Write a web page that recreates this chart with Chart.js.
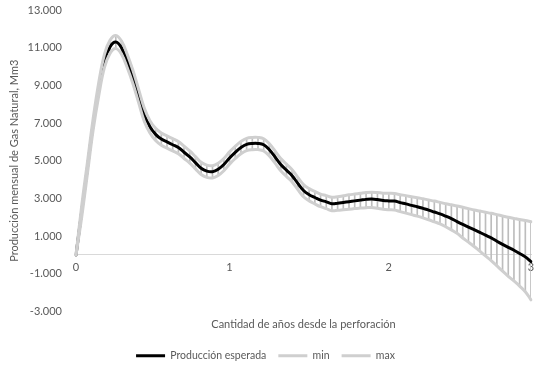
<!DOCTYPE html>
<html>
<head>
<meta charset="utf-8">
<script src="https://cdn.jsdelivr.net/npm/chart.js@4.4.1/dist/chart.umd.min.js"></script>
<style>
  html, body { margin: 0; padding: 0; background: #fff; }
  #wrap { width: 546px; height: 367px; }
</style>
</head>
<body>
<div id="wrap"><canvas id="prodChart"></canvas></div>
<script>
// valores (Mm3 / mes), un punto cada ~2 semanas
const esperada = [0, 2300, 4600, 6900, 8800, 10300, 11050, 11300, 11000, 10300,
  9450, 8450, 7450, 6800, 6400, 6150, 6000, 5850, 5700, 5450,
  5200, 4900, 4600, 4450, 4420, 4550, 4800, 5150, 5450, 5700,
  5870, 5920, 5920, 5850, 5580, 5200, 4800, 4500, 4200, 3800,
  3420, 3200, 3050, 2910, 2820, 2720, 2750, 2790, 2830, 2870,
  2910, 2950, 2970, 2940, 2890, 2870, 2860, 2780, 2710, 2630,
  2560, 2470, 2380, 2280, 2180, 2060, 1930, 1770, 1620, 1480,
  1340, 1200, 1050, 910, 730, 560, 400, 250, 80, -100, -350];

const minimo = [0, 2000, 4300, 6600, 8450, 9950, 10700, 10950, 10650, 9950,
  9100, 8100, 7100, 6470, 6070, 5820, 5670, 5520, 5370, 5120,
  4870, 4570, 4270, 4120, 4090, 4220, 4470, 4820, 5120, 5370,
  5540, 5590, 5590, 5520, 5250, 4870, 4470, 4170, 3870, 3470,
  3090, 2870, 2710, 2560, 2460, 2350, 2370, 2400, 2430, 2460,
  2490, 2510, 2520, 2480, 2430, 2400, 2380, 2300, 2220, 2140,
  2060, 1970, 1870, 1760, 1650, 1500, 1330, 1150, 900, 680,
  450, 200, -50, -300, -580, -860, -1130, -1380, -1650, -1950, -2380];

const maximo = [0, 2600, 4900, 7200, 9150, 10650, 11400, 11650, 11350, 10650,
  9800, 8800, 7800, 7130, 6720, 6470, 6320, 6170, 6020, 5770,
  5520, 5220, 4920, 4770, 4740, 4870, 5120, 5470, 5770, 6020,
  6190, 6240, 6240, 6170, 5900, 5520, 5120, 4820, 4520, 4120,
  3740, 3520, 3370, 3230, 3150, 3060, 3090, 3140, 3190, 3230,
  3270, 3310, 3330, 3310, 3280, 3270, 3260, 3200, 3150, 3090,
  3040, 2980, 2920, 2860, 2790, 2720, 2660, 2600, 2530, 2460,
  2390, 2330, 2270, 2210, 2140, 2070, 2000, 1940, 1880, 1830, 1770];

// etiquetas del eje x (años) y el punto donde aparece cada una
const tickIndex = [0, 27, 55, 80];
const tickText = ['0', '1', '2', '3'];

const labels = esperada.map((v, i) => {
  const k = tickIndex.indexOf(i);
  return k >= 0 ? tickText[k] : '';
});
const rango = minimo.map((v, i) => [v, maximo[i]]);

function miles(v) {
  const s = Math.abs(v).toFixed(0).replace(/\B(?=(\d{3})+(?!\d))/g, '.');
  return (v < 0 ? '-' : '') + s;
}

const fuente = { family: 'Lato', size: 11 };
const gris = '#595959';

new Chart(document.getElementById('prodChart'), {
  type: 'line',
  data: {
    labels: labels,
    datasets: [{
        label: 'Producción esperada',
        data: esperada,
        xAxisID: 'x',
        borderColor: '#000000',
        backgroundColor: '#000000',
        borderWidth: 3,
        borderCapStyle: 'round',
        pointStyle: 'line',
        pointRadius: 0,
        tension: 0.4,
        order: 2
      },
      {
        label: 'min',
        data: minimo,
        xAxisID: 'x',
        borderColor: '#cfcfcf',
        backgroundColor: '#cfcfcf',
        borderWidth: 3,
        borderCapStyle: 'round',
        pointStyle: 'line',
        pointRadius: 0,
        tension: 0.4,
        order: 0
      },
      {
        label: 'max',
        data: maximo,
        xAxisID: 'x',
        borderColor: '#cfcfcf',
        backgroundColor: '#cfcfcf',
        borderWidth: 3,
        borderCapStyle: 'round',
        pointStyle: 'line',
        pointRadius: 0,
        tension: 0.4,
        order: 1
      },
      {
        type: 'bar',
        label: 'rango',
        data: rango,
        xAxisID: 'x',
        backgroundColor: '#bdbdbd',
        barThickness: 1,
        order: 3
      }
    ]
  },
  options: {
    responsive: true,
    maintainAspectRatio: false,
    animation: false,
    layout: {
      padding: { top: 10, right: 15, bottom: -4, left: 0 }
    },
    plugins: {
      tooltip: { enabled: false },
      legend: {
        position: 'bottom',
        labels: {
          font: { family: 'Lato', size: 10.5 },
          color: gris,
          usePointStyle: true,
          pointStyleWidth: 29,
          padding: 12,
          filter: item => item.datasetIndex < 3,
          sort: (a, b) => a.datasetIndex - b.datasetIndex
        }
      }
    },
    scales: {
      x: {
        type: 'category',
        position: { y: 0 },
        offset: false,
        grid: { display: false, drawTicks: false },
        border: { display: true, color: '#d9d9d9', width: 1 },
        ticks: {
          autoSkip: false,
          maxRotation: 0,
          padding: 6,
          color: gris,
          font: fuente,
          callback: function(value, index) { return labels[index]; }
        }
      },
      xt: {
        type: 'category',
        axis: 'x',
        position: 'bottom',
        offset: false,
        grid: { display: false, drawTicks: false },
        border: { display: false },
        ticks: { display: false },
        title: {
          display: true,
          text: 'Cantidad de años desde la perforación',
          color: gris,
          font: fuente,
          padding: { top: 0, bottom: 7 }
        },
        afterFit: scale => { scale.height = 27; }
      },
      y: {
        min: -3000,
        max: 13000,
        grid: { display: false, drawTicks: true, tickLength: 14 },
        border: { display: false },
        ticks: {
          stepSize: 2000,
          padding: 0,
          color: gris,
          font: fuente,
          callback: value => miles(value)
        },
        title: {
          display: true,
          text: 'Producción mensual de Gas Natural, Mm3',
          color: gris,
          font: fuente,
          padding: { top: 8, bottom: 0 }
        },
        afterFit: scale => { scale.width = 76; }
      }
    }
  }
});
</script>
</body>
</html>
